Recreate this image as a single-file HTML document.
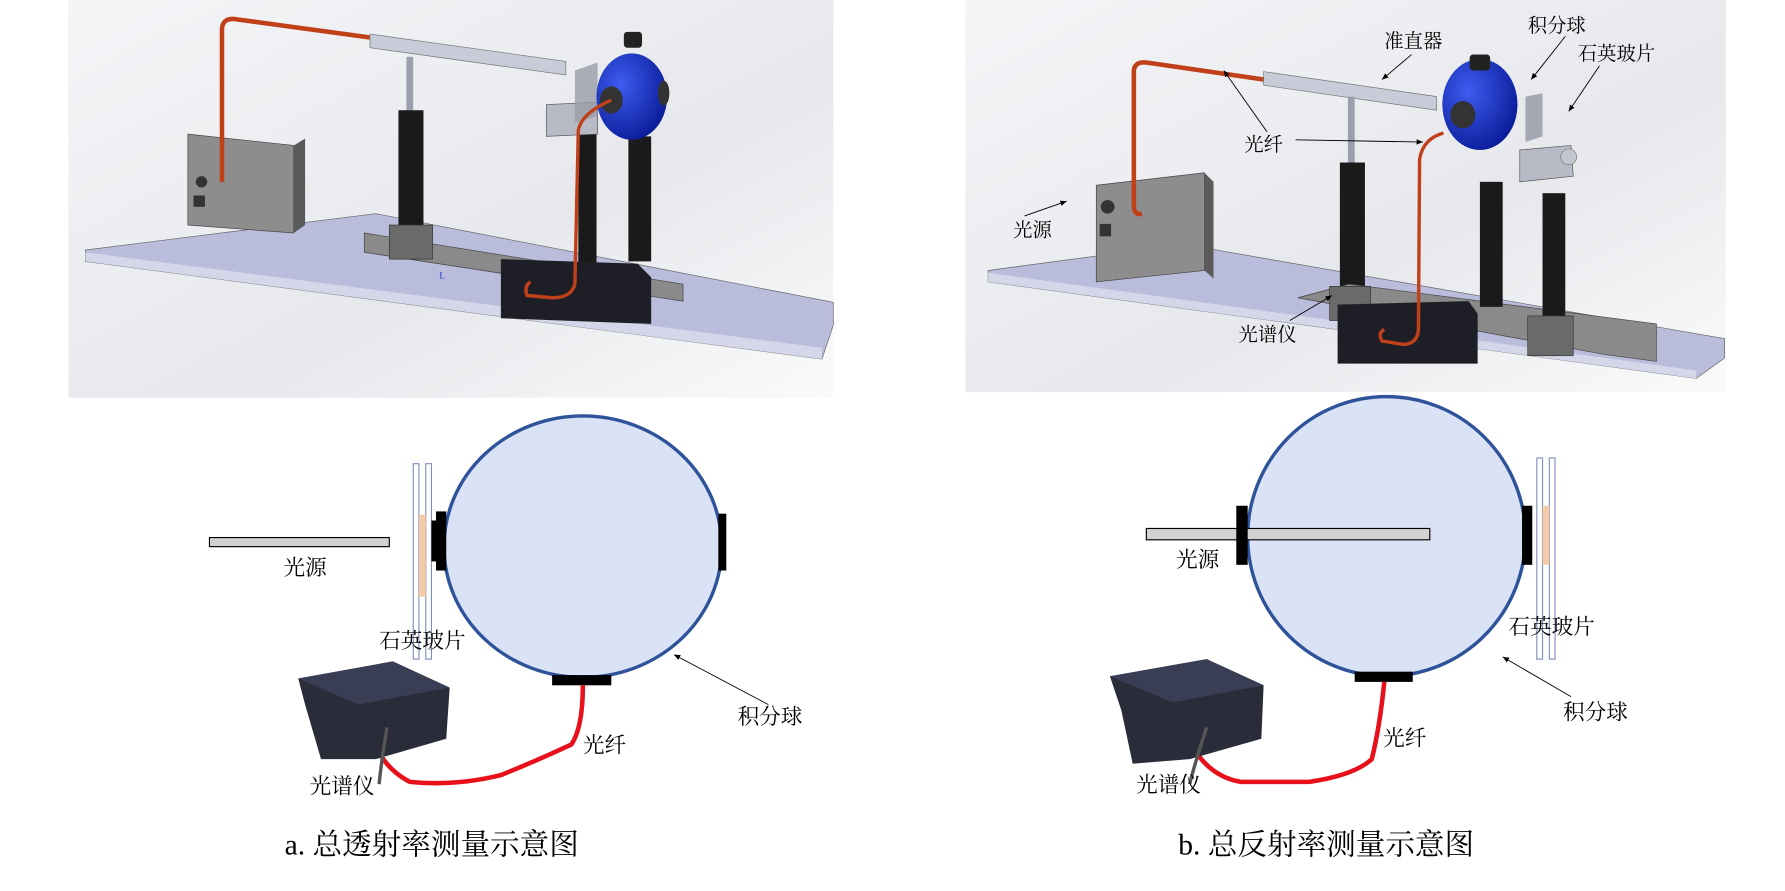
<!DOCTYPE html>
<html><head><meta charset="utf-8"><style>
html,body{margin:0;padding:0;background:#fff;}
svg{display:block;}
text{font-family:"Liberation Serif","Noto Serif CJK SC","Noto Sans CJK SC",serif;fill:#000;}
</style></head><body>
<svg width="1785" height="891" viewBox="0 0 1568 784" preserveAspectRatio="none" xmlns="http://www.w3.org/2000/svg">
<defs>
<linearGradient id="bg" x1="0" y1="0" x2="1" y2="1">
<stop offset="0" stop-color="#f4f5f7"/><stop offset="0.6" stop-color="#e6e8ec"/><stop offset="1" stop-color="#fafafa"/>
</linearGradient>
<radialGradient id="sph" cx="0.35" cy="0.35" r="0.7">
<stop offset="0" stop-color="#3f5cf0"/><stop offset="1" stop-color="#0a1d9a"/>
</radialGradient>
<marker id="ar" markerWidth="8" markerHeight="8" refX="7" refY="4" orient="auto"><path d="M0,1 L7,4 L0,7 z" fill="#000"/></marker>
</defs>

<!-- Panel a top -->
<rect x="60" y="0" width="672" height="350" fill="url(#bg)"/>
<polygon points="75,220 330,188 732,266 732,286 722,316 75,230" fill="#b9bcda" stroke="#666" stroke-width="0.6"/>
<polygon points="75,222 722,306 722,316 75,230" fill="#d4d6ea"/>
<polygon points="165,118 258,128 258,205 165,198" fill="#8d8d8d" stroke="#444" stroke-width="0.6"/>
<polygon points="258,128 268,122 268,198 258,205" fill="#5a5a5a"/>
<circle cx="177" cy="160" r="5" fill="#333"/>
<rect x="170" y="172" width="10" height="10" fill="#333"/>
<path d="M195,160 L195,25 Q196,15 208,17 L325,33" fill="none" stroke="#c0401a" stroke-width="4"/>
<polygon points="325,30 497,54 497,66 325,42" fill="#c8ccd8" stroke="#777" stroke-width="0.6"/>
<rect x="357" y="50" width="6" height="50" fill="#9aa0ac"/>
<rect x="350" y="97" width="22" height="103" fill="#1a1a1a"/>
<polygon points="320,205 600,250 600,265 320,222" fill="#8a8a8a" stroke="#444" stroke-width="0.6"/>
<rect x="342" y="198" width="38" height="30" fill="#6a6a6a" stroke="#333" stroke-width="0.6"/>
<rect x="508" y="115" width="16" height="125" fill="#1a1a1a"/>
<rect x="552" y="120" width="20" height="110" fill="#1a1a1a"/>
<polygon points="440,228 560,232 572,244 572,285 440,280" fill="#1e1f26"/>
<polygon points="480,92 525,90 525,118 480,120" fill="#b8bac6" stroke="#555" stroke-width="0.6"/>
<polygon points="505,62 525,55 525,102 505,108" fill="#9a9ca8" opacity="0.8"/>
<ellipse cx="555" cy="85" rx="31" ry="38" fill="url(#sph)"/>
<rect x="548" y="28" width="16" height="14" rx="3" fill="#222"/>
<ellipse cx="537" cy="88" rx="10" ry="12" fill="#333"/>
<ellipse cx="583" cy="82" rx="5" ry="11" fill="#333"/>
<path d="M537,88 Q510,100 508,115 L505,250 Q502,262 485,262 L463,260 Q460,252 466,248" fill="none" stroke="#c0401a" stroke-width="3"/>
<text x="386" y="245" font-size="8" style="fill:#2233cc">L</text>

<!-- Panel b top -->
<rect x="848" y="0" width="668" height="345" fill="url(#bg)"/>
<polygon points="868,238 1040,215 1515,298 1515,315 1490,333 868,248" fill="#b9bcda" stroke="#666" stroke-width="0.6"/>
<polygon points="868,240 1490,326 1490,333 868,248" fill="#d4d6ea"/>
<polygon points="963,163 1058,152 1058,238 963,248" fill="#8d8d8d" stroke="#444" stroke-width="0.6"/>
<polygon points="1058,152 1066,160 1066,245 1058,238" fill="#5a5a5a"/>
<circle cx="973" cy="182" r="6" fill="#333"/>
<rect x="966" y="197" width="10" height="11" fill="#333"/>
<path d="M1003,188 Q996,190 996,180 L996,62 Q997,54 1007,55 L1110,70" fill="none" stroke="#c0401a" stroke-width="4"/>
<polygon points="1110,63 1262,85 1262,97 1110,75" fill="#c8ccd8" stroke="#777" stroke-width="0.6"/>
<rect x="1184" y="85" width="6" height="60" fill="#9aa0ac"/>
<rect x="1177" y="143" width="22" height="113" fill="#1a1a1a"/>
<polygon points="1140,262 1185,250 1455,285 1455,318 1410,312" fill="#8a8a8a" stroke="#444" stroke-width="0.6"/>
<rect x="1168" y="252" width="36" height="30" fill="#6a6a6a" stroke="#333" stroke-width="0.6"/>
<rect x="1300" y="160" width="20" height="110" fill="#1a1a1a"/>
<rect x="1355" y="170" width="20" height="110" fill="#1a1a1a"/>
<rect x="1342" y="278" width="40" height="35" fill="#6a6a6a" stroke="#333" stroke-width="0.6"/>
<polygon points="1175,268 1290,265 1298,276 1298,320 1175,320" fill="#1e1f26"/>
<ellipse cx="1300" cy="92" rx="33" ry="40" fill="url(#sph)"/>
<rect x="1291" y="48" width="18" height="14" rx="3" fill="#222"/>
<ellipse cx="1285" cy="101" rx="11" ry="12" fill="#333"/>
<polygon points="1340,85 1355,82 1355,120 1340,125" fill="#9a9ca8" opacity="0.85"/>
<polygon points="1335,132 1380,128 1382,155 1335,160" fill="#b8bac6" stroke="#555" stroke-width="0.6"/>
<circle cx="1378" cy="138" r="7" fill="#c5c7d0" stroke="#666" stroke-width="0.5"/>
<path d="M1268,117 Q1250,122 1247,140 L1246,290 Q1245,303 1232,303 L1214,300 Q1210,293 1216,290" fill="none" stroke="#c0401a" stroke-width="3"/>
<!-- labels b -->
<g font-size="17">
<text x="1216" y="42">准直器</text>
<text x="1342" y="28">积分球</text>
<text x="1386" y="53">石英玻片</text>
<text x="1093" y="133">光纤</text>
<text x="890" y="208">光源</text>
<text x="1088" y="300">光谱仪</text>
</g>
<g stroke="#000" stroke-width="0.8" fill="none" marker-end="url(#ar)">
<line x1="1240" y1="48" x2="1214" y2="70"/>
<line x1="1375" y1="32" x2="1345" y2="70"/>
<line x1="1405" y1="58" x2="1378" y2="98"/>
<line x1="1113" y1="116" x2="1075" y2="62"/>
<line x1="1138" y1="123" x2="1250" y2="125"/>
<line x1="900" y1="190" x2="937" y2="177"/>
<line x1="1133" y1="282" x2="1170" y2="260"/>
</g>

<!-- Bottom a -->
<ellipse cx="512" cy="481" rx="122" ry="115" fill="#dae3f5" stroke="#2f539a" stroke-width="3"/>
<rect x="184" y="473" width="158" height="8" fill="#d2d2d2" stroke="#000" stroke-width="1"/>
<rect x="363" y="408" width="5" height="172" fill="#fff" stroke="#7f8fc0" stroke-width="1"/>
<rect x="374" y="408" width="5" height="172" fill="#fff" stroke="#7f8fc0" stroke-width="1"/>
<rect x="368" y="453" width="6" height="72" fill="#f5cba7"/>
<rect x="383" y="450" width="9" height="52" fill="#000"/>
<rect x="379" y="458" width="6" height="36" fill="#000"/>
<rect x="631" y="452" width="7" height="50" fill="#000"/>
<rect x="485" y="594" width="52" height="9" fill="#000"/>
<path d="M512,603 Q512,640 502,655 Q470,670 440,682 Q400,692 360,688 Q335,675 325,645" fill="none" stroke="#e8101a" stroke-width="4"/>
<polygon points="262,597 345,582 395,605 392,650 330,668 282,668 268,620" fill="#2a2c3a"/>
<polygon points="262,597 345,582 395,605 315,620" fill="#3a3e55"/>
<path d="M340,640 Q335,670 333,690" stroke="#555" stroke-width="3" fill="none"/>
<g font-size="19">
<text x="249" y="506">光源</text>
<text x="333" y="570">石英玻片</text>
<text x="648" y="637">积分球</text>
<text x="512" y="662">光纤</text>
<text x="272" y="698">光谱仪</text>
</g>
<line x1="675" y1="620" x2="592" y2="576" stroke="#000" stroke-width="0.8" marker-end="url(#ar)"/>
<text x="250" y="752" font-size="26">a. 总透射率测量示意图</text>

<!-- Bottom b -->
<ellipse cx="1218" cy="472" rx="122" ry="123" fill="#dae3f5" stroke="#2f539a" stroke-width="3"/>
<rect x="1007" y="465" width="249" height="10" fill="#d2d2d2" stroke="#000" stroke-width="1"/>
<rect x="1086" y="445" width="10" height="52" fill="#000"/>
<rect x="1337" y="445" width="9" height="52" fill="#000"/>
<rect x="1350" y="403" width="5" height="177" fill="#fff" stroke="#7f8fc0" stroke-width="1"/>
<rect x="1361" y="403" width="5" height="177" fill="#fff" stroke="#7f8fc0" stroke-width="1"/>
<rect x="1355" y="445" width="6" height="52" fill="#f5cba7"/>
<rect x="1190" y="591" width="51" height="9" fill="#000"/>
<path d="M1216,600 Q1212,640 1205,668 Q1190,682 1150,688 L1090,688 Q1055,682 1040,640" fill="none" stroke="#e8101a" stroke-width="4"/>
<polygon points="975,595 1060,580 1110,603 1108,650 1045,668 995,672 985,625" fill="#2a2c3a"/>
<polygon points="975,595 1060,580 1110,603 1030,618" fill="#3a3e55"/>
<path d="M1060,640 Q1050,670 1045,690" stroke="#555" stroke-width="3" fill="none"/>
<g font-size="19">
<text x="1033" y="499">光源</text>
<text x="1325" y="558">石英玻片</text>
<text x="1373" y="633">积分球</text>
<text x="1215" y="656">光纤</text>
<text x="998" y="697">光谱仪</text>
</g>
<line x1="1380" y1="613" x2="1320" y2="578" stroke="#000" stroke-width="0.8" marker-end="url(#ar)"/>
<text x="1035" y="752" font-size="26">b. 总反射率测量示意图</text>
</svg>
</body></html>
